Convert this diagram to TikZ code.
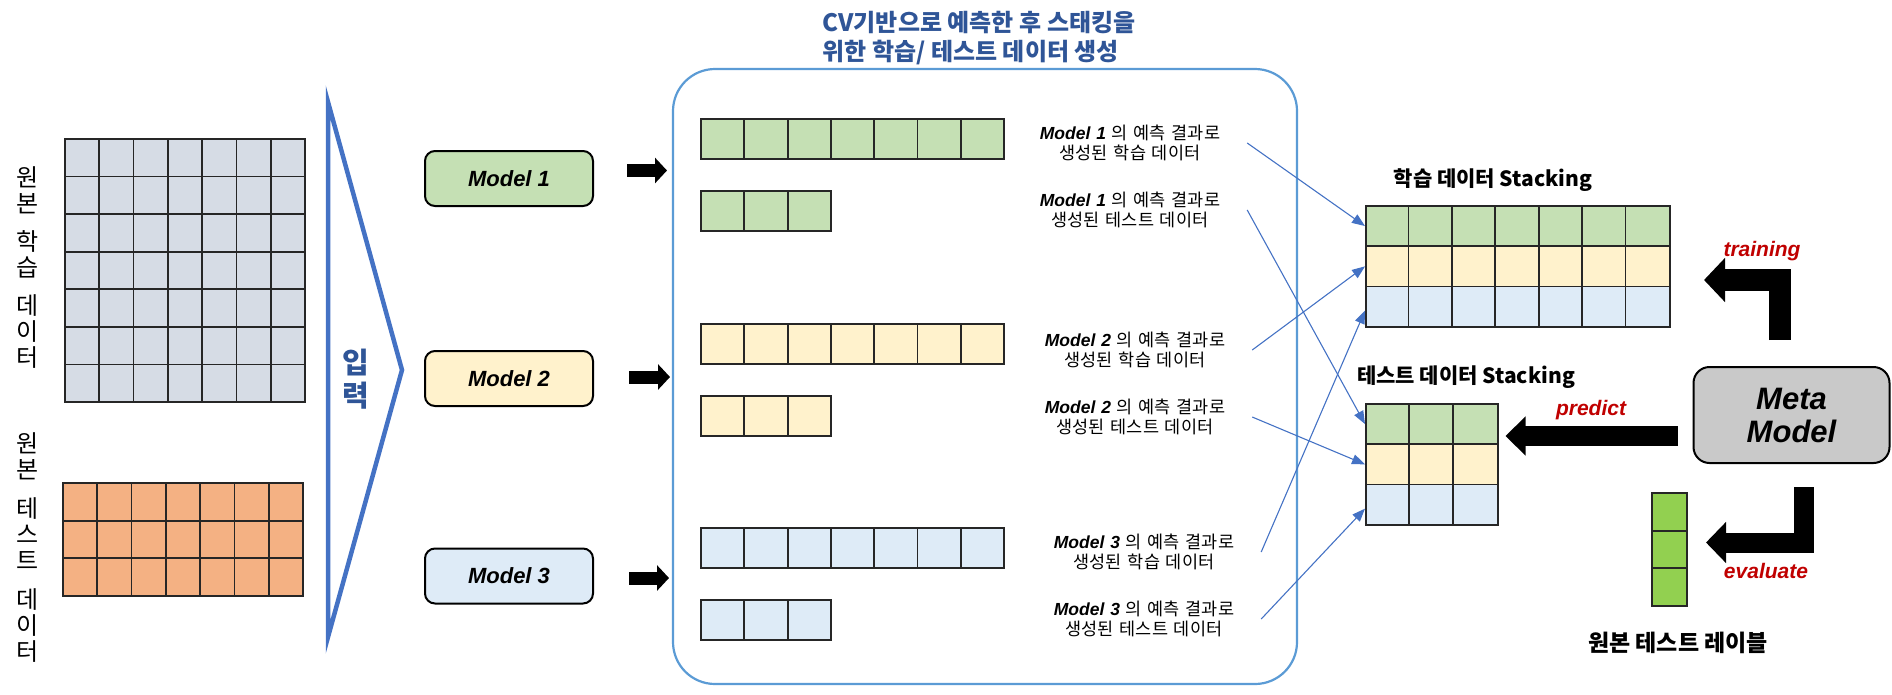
\documentclass[tikz,border=0pt]{standalone}
\usepackage{fontspec}
\setmainfont{Noto Sans CJK KR}
\newfontfamily\latinsf{Liberation Sans}
\usetikzlibrary{arrows.meta}

\definecolor{cellgray}{HTML}{D6DCE5}
\definecolor{cellorange}{HTML}{F4B183}
\definecolor{mgreen}{HTML}{C5E0B4}
\definecolor{myellow}{HTML}{FFF2CC}
\definecolor{mblue}{HTML}{DEEBF7}
\definecolor{lblgreen}{HTML}{92D050}
\definecolor{metagray}{HTML}{C9C9C9}
\definecolor{boxblue}{HTML}{5B9BD5}
\definecolor{linkblue}{HTML}{4472C4}
\definecolor{titleblue}{HTML}{2F5597}
\definecolor{tagred}{HTML}{C00000}

\begin{document}
\begin{tikzpicture}[x=1pt, y=-1pt,
  cell/.style = {draw=black!85, line width=1.8pt},
  srow/.style = {cell, anchor=north west, minimum height=40.3pt, inner sep=0pt},
  modelbox/.style = {draw, line width=2pt, rounded corners=10pt,
    minimum width=168pt, minimum height=55pt,
    font=\latinsf\bfseries\itshape\fontsize{22}{27}\selectfont},
  vtext/.style = {align=center, inner sep=0pt, font=\fontsize{24}{26}\selectfont},
  caption/.style = {align=center, text width=196pt, inner sep=0pt,
    font=\fontsize{17.5}{20}\selectfont},
  heading/.style = {font=\bfseries\fontsize{21}{24}\selectfont},
  tag/.style = {text=tagred, font=\latinsf\bfseries\itshape\fontsize{21}{24}\selectfont},
  link/.style = {draw=linkblue, line width=1.1pt, -{Triangle[length=13pt,width=10pt]}},
  fatarrow/.style = {line width=13pt, -{Triangle[length=12pt,width=25pt]}},
  bigarrow/.style = {line width=21pt, line join=miter, -{Triangle[length=20pt,width=41pt]}}]
  \useasboundingbox (0,0) rectangle (1892,694);

  \foreach \c in {0,...,6} \foreach \r in {0,...,6}
    \draw[cell, fill=cellgray] ({65+\c*240/7},{139+\r*263/7}) rectangle ++({240/7},{263/7});
  \foreach \c in {0,...,6} \foreach \r in {0,1,2}
    \draw[cell, fill=cellorange] ({63+\c*240/7},{483+\r*113/3}) rectangle ++({240/7},{113/3});
  \node[vtext] (trainsrc) at (28,268) {원\\본\\[12pt]학\\습\\[12pt]데\\이\\터};
  \node[vtext] (testsrc) at (28,548) {원\\본\\[13pt]테\\스\\트\\[13pt]데\\이\\터};

  \draw[draw=linkblue, line width=4.5pt] (328,102) -- (402,370) -- (328,637) -- cycle;
  \node[align=center, text=titleblue, font=\bfseries\fontsize{29}{33}\selectfont] (input) at (356,379) {입\\력};

  \node[align=left, text=titleblue, font=\bfseries\fontsize{24}{29}\selectfont] (title) at (979,38.5)
    {CV기반으로 예측한 후 스태킹을\\위한 학습/ 테스트 데이터 생성};
  \node[draw=boxblue, line width=2.2pt, rounded corners=42pt,
    minimum width=624pt, minimum height=615pt] (cvbox) at (985,376.5) {};

  \node[modelbox, fill=mgreen] (m1) at (509,178.5) {Model 1};
  \node[modelbox, fill=myellow] (m2) at (509,378.5) {Model 2};
  \node[modelbox, fill=mblue] (m3) at (509,576) {Model 3};
  \draw[fatarrow, shorten <=33pt, shorten >=7pt] ([yshift=8pt]m1.east) -- ++(80,0);
  \draw[fatarrow, shorten <=35pt, shorten >=4pt] ([yshift=1.5pt]m2.east) -- ++(80,0);
  \draw[fatarrow, shorten <=35pt, shorten >=5pt] ([yshift=-2pt]m3.east) -- ++(80,0);

  \foreach \y/\col in {119/mgreen, 324/myellow, 528/mblue} {
    \foreach \c in {0,...,6} \draw[cell, fill=\col] ({701+\c*43.3},\y) rectangle ++(43.3,40);
    \foreach \c in {0,1,2} \draw[cell, fill=\col] ({701+\c*43.3},{\y+72}) rectangle ++(43.3,40);
  }

  \node[caption] (lab1t) at (1130,143) {{\latinsf\bfseries\itshape Model 1} 의 예측 결과로\\생성된 학습 데이터};
  \node[caption] (lab1s) at (1130,210) {{\latinsf\bfseries\itshape Model 1} 의 예측 결과로\\생성된 테스트 데이터};
  \node[caption] (lab2t) at (1135,350) {{\latinsf\bfseries\itshape Model 2} 의 예측 결과로\\생성된 학습 데이터};
  \node[caption] (lab2s) at (1135,417) {{\latinsf\bfseries\itshape Model 2} 의 예측 결과로\\생성된 테스트 데이터};
  \node[caption] (lab3t) at (1144,552) {{\latinsf\bfseries\itshape Model 3} 의 예측 결과로\\생성된 학습 데이터};
  \node[caption] (lab3s) at (1144,619) {{\latinsf\bfseries\itshape Model 3} 의 예측 결과로\\생성된 테스트 데이터};

  \node[heading] (trainhead) at (1493,180) {학습 데이터 Stacking};
  \node[srow, fill=mgreen, minimum width=304pt] (tr1) at (1365,205) {};
  \node[srow, fill=myellow, minimum width=304pt] (tr2) at (1365,245.3) {};
  \node[srow, fill=mblue, minimum width=304pt] (tr3) at (1365,285.6) {};
  \foreach \c in {1,...,6} \draw[cell] ({1365+\c*304/7},205) -- ++(0,121);

  \node[heading] (testhead) at (1466,377) {테스트 데이터 Stacking};
  \node[srow, fill=mgreen, minimum width=132pt] (te1) at (1365,403) {};
  \node[srow, fill=myellow, minimum width=132pt] (te2) at (1365,443.3) {};
  \node[srow, fill=mblue, minimum width=132pt] (te3) at (1365,483.6) {};
  \foreach \c in {1,2} \draw[cell] ({1365+\c*44},403) -- ++(0,121);

  \draw[link] ([xshift=19pt]lab1t.east) -- (tr1.west);
  \draw[link] ([xshift=19pt]lab1s.east) -- (te1.west);
  \draw[link] ([xshift=19pt]lab2t.east) -- (tr2.west);
  \draw[link] ([xshift=19pt]lab2s.east) -- (te2.west);
  \draw[link] ([xshift=19pt]lab3t.east) -- ([yshift=-4pt]tr3.west);
  \draw[link] ([xshift=19pt]lab3s.east) -- ([yshift=-4pt]te3.west);

  \node[draw, line width=2pt, fill=metagray, rounded corners=16pt,
    minimum width=196pt, minimum height=96pt, align=center,
    font=\latinsf\bfseries\itshape\fontsize{31}{33}\selectfont] (meta) at (1791.5,415) {Meta\\Model};
  \draw[bigarrow, line width=22pt, -{Triangle[length=21pt,width=43pt]}]
    ([xshift=-11.5pt, yshift=26pt]meta.north) -- ++(0,-60) -- ++(-76,0);
  \draw[bigarrow, line width=20pt, -{Triangle[length=20pt,width=38pt]}]
    ([xshift=-15pt, yshift=-21pt]meta.west) -- ++(-172,0);
  \draw[bigarrow, line width=20pt, -{Triangle[length=20pt,width=40pt]}]
    ([xshift=12pt, yshift=-23pt]meta.south) -- ++(0,55.5) -- ++(-97.5,0);
  \node[tag] (traintag) at (1762,251) {training};
  \node[tag] (predtag) at (1591,410) {predict};
  \node[tag] (evaltag) at (1766,571) {evaluate};

  \foreach \r in {0,1,2}
    \draw[cell, fill=lblgreen] (1652,{493+\r*113/3}) rectangle ++(35,{113/3});
  \node[heading, font=\bfseries\fontsize{23}{26}\selectfont] (labelhead) at (1678,643) {원본 테스트 레이블};
\end{tikzpicture}
\end{document}
